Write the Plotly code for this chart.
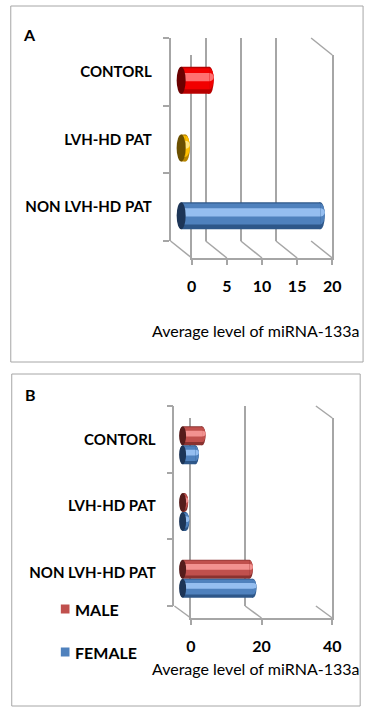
import plotly.graph_objects as go

W, H = 374, 712

# ---------------- data ----------------
categories = ["CONTORL", "LVH-HD PAT", "NON LVH-HD PAT"]   # top to bottom
level_a = [4.0, 0.6, 19.8]
series_b = ["MALE", "FEMALE"]
male_b = [5.5, 0.6, 18.9]
female_b = [3.6, 0.9, 19.9]
ticks_a = [0, 5, 10, 15, 20]
ticks_b = [0, 20, 40]
x_title = "Average level of miRNA-133a"
panel_letters = ["A", "B"]

# ---------------- style ----------------
GRID = "#A6A6A6"
FONT = "Lato"
TXT = "#000000"
# (dark edge, main, highlight, end-cap)
RED = ("#B80000", "#F20000", "#FF7070", "#6A0000")
GOLD = ("#B88600", "#FFC000", "#FFE680", "#6B5000")
BLUE = ("#2E5789", "#4F81BD", "#95BEF0", "#1D3557")
MALEC = ("#8A3230", "#C0504D", "#F29290", "#551C1B")
colors_a = [RED, GOLD, BLUE]
colors_b = [MALEC, BLUE]


def px(x):
    return x / W


def py(y):
    return 1 - y / H


def xdom(a, b):
    return [px(a), px(b)]


def ydom(top, bot):
    return [py(bot), py(top)]


def xn(i):
    return "xaxis" if i == 1 else f"xaxis{i}"


def yn(i):
    return "yaxis" if i == 1 else f"yaxis{i}"


def xi(i):
    return "x" if i == 1 else f"x{i}"


def yi(i):
    return "y" if i == 1 else f"y{i}"


fig = go.Figure()
layout = {}
shapes = []
annotations = []
n = len(categories)
positions = [n - 1 - k for k in range(n)]  # CONTORL at top


def add_cylinder(xa, ya, value, pos, off, w, cols, cap_w):
    dark, main, light, cap = cols
    layers = [(w, off, dark), (0.78 * w, off + 0.06 * w, main),
              (0.3 * w, off + 0.12 * w, light)]
    for (lw, lo, c) in layers:
        fig.add_trace(go.Bar(x=[value], y=[pos], orientation="h", width=lw,
                             offset=lo - lw / 2, marker=dict(color=c, line=dict(width=0)),
                             xaxis=xa, yaxis=ya, showlegend=False, hoverinfo="skip"))
        shapes.append(dict(type="circle", xref=xa, yref=ya, xsizemode="pixel",
                           xanchor=value, x0=-cap_w / 2, x1=cap_w / 2,
                           y0=pos + lo - lw / 2, y1=pos + lo + lw / 2,
                           fillcolor=c, line=dict(width=0), layer="between"))
    shapes.append(dict(type="circle", xref=xa, yref=ya, xsizemode="pixel", xanchor=0,
                       x0=-cap_w / 2, x1=cap_w / 2, y0=pos + off - w / 2, y1=pos + off + w / 2,
                       fillcolor=cap, line=dict(width=0), layer="above"))


def build_panel(ids, back, front, ticks, title_y, letter, letter_xy, label_fs):
    ib, ifr, ibar = ids
    vmax = ticks[-1]
    # back wall
    layout[xn(ib)] = dict(domain=xdom(back[0], back[1]), range=[0, vmax], anchor=yi(ib),
                          showgrid=True, gridcolor=GRID, gridwidth=1.5, tickvals=ticks,
                          showticklabels=False, ticks="", zeroline=False, showline=False)
    layout[yn(ib)] = dict(domain=ydom(back[2], back[3]), range=[0, n], anchor=xi(ib),
                          showgrid=False, zeroline=False, showline=True, linecolor=GRID,
                          linewidth=1.5, tickvals=[k + 0.5 for k in range(n)],
                          ticktext=categories[::-1], ticks="", ticklabelstandoff=14,
                          tickfont=dict(family=FONT, size=label_fs, color=TXT, weight="bold"),
                          minor=dict(tickvals=list(range(n + 1)), ticks="outside", ticklen=6,
                                     tickcolor=GRID, tickwidth=1.5))
    fig.add_trace(go.Scatter(x=[None], y=[None], xaxis=xi(ib), yaxis=yi(ib),
                             showlegend=False, hoverinfo="skip"))
    # front frame
    layout[xn(ifr)] = dict(domain=xdom(front[0], front[1]), range=[0, vmax], anchor=yi(ifr),
                           showgrid=False, zeroline=False, showline=True, linecolor=GRID,
                           linewidth=1.5, ticks="outside", ticklen=5, tickcolor=GRID,
                           tickwidth=1.5, tickvals=ticks, ticklabelstandoff=8,
                           tickfont=dict(family=FONT, size=16, color=TXT, weight="bold"))
    layout[yn(ifr)] = dict(domain=ydom(front[2], front[3]), range=[0, n], anchor=xi(ifr),
                           showgrid=False, zeroline=False, showline=True, mirror=True,
                           linecolor=GRID, linewidth=1.5, showticklabels=False, ticks="")
    fig.add_trace(go.Scatter(x=[None], y=[None], xaxis=xi(ifr), yaxis=yi(ifr),
                             showlegend=False, hoverinfo="skip"))

    # depth diagonals, computed from both axis mappings
    def bx(v):
        return back[0] + (back[1] - back[0]) * v / vmax

    def fx(v):
        return front[0] + (front[1] - front[0]) * v / vmax

    for v in ticks:
        shapes.append(dict(type="line", xref="paper", yref="paper",
                           x0=px(bx(v)), y0=py(back[3]), x1=px(fx(v)), y1=py(front[3]),
                           line=dict(color=GRID, width=1.5), layer="below"))
    shapes.append(dict(type="line", xref="paper", yref="paper",
                       x0=px(bx(vmax)), y0=py(back[2]), x1=px(fx(vmax)), y1=py(front[2]),
                       line=dict(color=GRID, width=1.5), layer="below"))

    # bar axes at mid depth
    mx0 = (back[0] + front[0]) / 2
    mx1 = (back[1] + front[1]) / 2
    my0 = (back[2] + front[2]) / 2
    my1 = (back[3] + front[3]) / 2
    ppu = (mx1 - mx0) / vmax
    pad = 14 / ppu
    layout[xn(ibar)] = dict(domain=xdom(mx0 - 14, mx1 + 14), range=[-pad, vmax + pad],
                            anchor=yi(ibar), visible=False)
    layout[yn(ibar)] = dict(domain=ydom(my0, my1), range=[-0.5, n - 0.5],
                            anchor=xi(ibar), visible=False)

    annotations.append(dict(text=x_title, xref="paper", yref="paper", x=px(260), y=py(title_y),
                            xanchor="center", yanchor="middle", showarrow=False,
                            font=dict(family=FONT, size=16, color=TXT)))
    annotations.append(dict(text=letter, xref="paper", yref="paper", x=px(letter_xy[0]),
                            y=py(letter_xy[1]), xanchor="center", yanchor="middle",
                            showarrow=False,
                            font=dict(family=FONT, size=16, color=TXT, weight="bold")))


# Panel A
build_panel((1, 2, 3), back=(172, 318, 38, 241), front=(194, 340, 55, 258), ticks=ticks_a,
            title_y=330, letter=panel_letters[0], letter_xy=(25, 35), label_fs=15)
for k in range(n):
    add_cylinder("x3", "y3", level_a[k], positions[k], 0.0, 0.4, colors_a[k], 9)

# Panel B
wB = 0.285
build_panel((4, 5, 6), back=(176, 323, 406, 606), front=(193, 340, 418, 618), ticks=ticks_b,
            title_y=668, letter=panel_letters[1], letter_xy=(27, 394), label_fs=15)
for vals, cols, off in [(male_b, colors_b[0], wB / 2), (female_b, colors_b[1], -wB / 2)]:
    for k in range(n):
        add_cylinder("x6", "y6", vals[k], positions[k], off, wB, cols, 7)

# Legend of panel B
for name, cols, yc in zip(series_b, colors_b, [609, 652]):
    shapes.append(dict(type="rect", xref="paper", yref="paper", x0=px(58), x1=px(67),
                       y0=py(yc + 4.5), y1=py(yc - 4.5), fillcolor=cols[1], line=dict(width=0)))
    annotations.append(dict(text=name, xref="paper", yref="paper", x=px(71), y=py(yc),
                            xanchor="left", yanchor="middle", showarrow=False,
                            font=dict(family=FONT, size=16, color=TXT, weight="bold")))

# Panel frames
for (x0, y0, x1, y1) in [(6, 6, 372, 362), (7, 374, 369, 706)]:
    shapes.append(dict(type="rect", xref="paper", yref="paper", x0=px(x0), x1=px(x1),
                       y0=py(y1), y1=py(y0), line=dict(color="#A6A6A6", width=1),
                       fillcolor="rgba(0,0,0,0)", layer="below"))

fig.update_layout(width=W, height=H, margin=dict(l=0, r=0, t=0, b=0),
                  paper_bgcolor="white", plot_bgcolor="rgba(0,0,0,0)",
                  barmode="overlay", showlegend=False, shapes=shapes,
                  annotations=annotations, **layout)

fig.write_html("out.html", config={"displayModeBar": False},
               post_script="document.body.style.margin='0';document.body.style.overflow='hidden';")
